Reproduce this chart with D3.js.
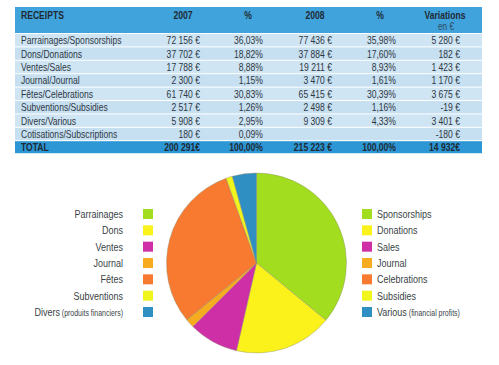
<!DOCTYPE html>
<html><head><meta charset="utf-8">
<script src="https://cdn.jsdelivr.net/npm/d3@7"></script>
<style>body{margin:0;background:#fff}svg{display:block}</style>
</head><body>
<svg id="c" width="499" height="365"></svg>
<script>
const rowLabels = ["Parrainages/Sponsorships","Dons/Donations","Ventes/Sales","Journal/Journal","Fêtes/Celebrations","Subventions/Subsidies","Divers/Various","Cotisations/Subscriptions"];
const v2007 = [72156, 37702, 17788, 2300, 61740, 2517, 5908, 180];
const p2007 = ["36,03%","18,82%","8,88%","1,15%","30,83%","1,26%","2,95%","0,09%"];
const v2008 = [77436, 37884, 19211, 3470, 65415, 2498, 9309, null];
const p2008 = ["35,98%","17,60%","8,93%","1,61%","30,39%","1,16%","4,33%",""];
const variations = [5280, 182, 1423, 1170, 3675, -19, 3401, -180];
const totals = ["200 291€","100,00%","215 223 €","100,00%","14 932€"];

const pieKeys = ["Sponsorships","Donations","Sales","Journal","Celebrations","Subsidies","Various"];
const frLabels = ["Parrainages","Dons","Ventes","Journal","Fêtes","Subventions","Divers"];
const pieValues = v2008.slice(0,7);
const pieColors = ["#a2dd1f","#fbf21c","#cf2fa6","#f7ab1f","#f77a30","#f0f51c","#2f8fc3"];

const svg = d3.select("#c");
const F = "'Liberation Sans', Arial, sans-serif";
const txt = "#2e3742";
const fmt = v => v == null ? "" : d3.format(",")(v).replace(/,/g, " ").replace("\u2212", "-") + " €";

function T(x, y, s, o = {}) {
  const t = svg.append("text")
    .attr("transform", `translate(${x},${y}) scale(${o.sx || 0.78},1)`)
    .attr("text-anchor", o.anchor || "start")
    .attr("font-family", F).attr("font-size", o.size || 11)
    .attr("font-weight", o.weight || "normal").attr("fill", o.fill || txt);
  t.append("tspan").text(s);
  return t;
}

// table
const tx0 = 15, tx1 = 482;
const headTop = 7, headBot = 33, rowH = 13.4;
const totalTop = headBot + rowH * 8;
svg.append("rect").attr("x", tx0).attr("y", headTop).attr("width", tx1 - tx0).attr("height", headBot - headTop).attr("fill", "#41a3db");
const rowY = d3.scaleBand().domain(d3.range(8)).range([headBot, totalTop]);
svg.selectAll("rect.row").data(d3.range(8)).join("rect").attr("class","row")
  .attr("x", tx0).attr("y", i => rowY(i) + 1).attr("width", tx1 - tx0).attr("height", rowY.bandwidth() - 1)
  .attr("fill", (d,i) => i % 2 ? "#c6dff1" : "#cfe5f4");
svg.append("rect").attr("x", tx0).attr("y", totalTop + 1).attr("width", tx1 - tx0).attr("height", 12).attr("fill", "#2c97d4");

const colRight = [200, 263, 332, 396, 460];
const colCenter = [183, 248, 315, 380, 445];
const heads = ["2007","%","2008","%","Variations"];
const hc = "#1f2a35";
T(21, 19, "RECEIPTS", {weight: "bold", fill: hc});
heads.forEach((h, j) => T(colCenter[j], 19, h, {anchor: "middle", weight: "bold", fill: hc}));
T(446, 30, "en €", {anchor: "middle", size: 10.5, fill: "#2e4a60"});

const cols = [v2007.map(fmt), p2007, v2008.map(fmt), p2008, variations.map(fmt)];
rowLabels.forEach((lab, i) => {
  const y = rowY(i) + rowY.bandwidth() / 2 + 4.5;
  T(21, y, lab);
  cols.forEach((c, j) => T(colRight[j], y, c[i], {anchor: "end"}));
});
const ty = totalTop + 1 + 10;
T(21, ty, "TOTAL", {weight: "bold", fill: hc});
totals.forEach((t, j) => T(colRight[j], ty, t, {anchor: "end", weight: "bold", fill: hc}));

// pie
const cx = 256.5, cy = 263, r = 90;
const pie = d3.pie().sort(null).value(d => d);
const arc = d3.arc().innerRadius(0).outerRadius(r);
svg.append("g").attr("transform", `translate(${cx},${cy})`)
  .selectAll("path").data(pie(pieValues)).join("path")
  .attr("d", arc).attr("fill", (d,i) => pieColors[i]).attr("stroke", "#8a8a70").attr("stroke-width", 0.4);

// legends
const LF = 11, lc = "#3a3f46";
const ly = d3.scalePoint().domain(d3.range(7)).range([214, 312]);
frLabels.forEach((lab, i) => {
  const y = ly(i);
  svg.append("rect").attr("x", 143).attr("y", y - 5).attr("width", 10).attr("height", 10).attr("fill", pieColors[i]);
  const t = T(123, y + 4, lab, {anchor: "end", size: LF, fill: lc, sx: 0.82});
  if (i === 6) t.append("tspan").attr("font-size", 8.5).text(" (produits financiers)");
});
pieKeys.forEach((lab, i) => {
  const y = ly(i);
  svg.append("rect").attr("x", 362).attr("y", y - 5).attr("width", 10).attr("height", 10).attr("fill", pieColors[i]);
  const t = T(377, y + 4, lab, {size: LF, fill: lc, sx: 0.82});
  if (i === 6) t.append("tspan").attr("font-size", 8.5).text(" (financial profits)");
});
</script>
</body></html>
